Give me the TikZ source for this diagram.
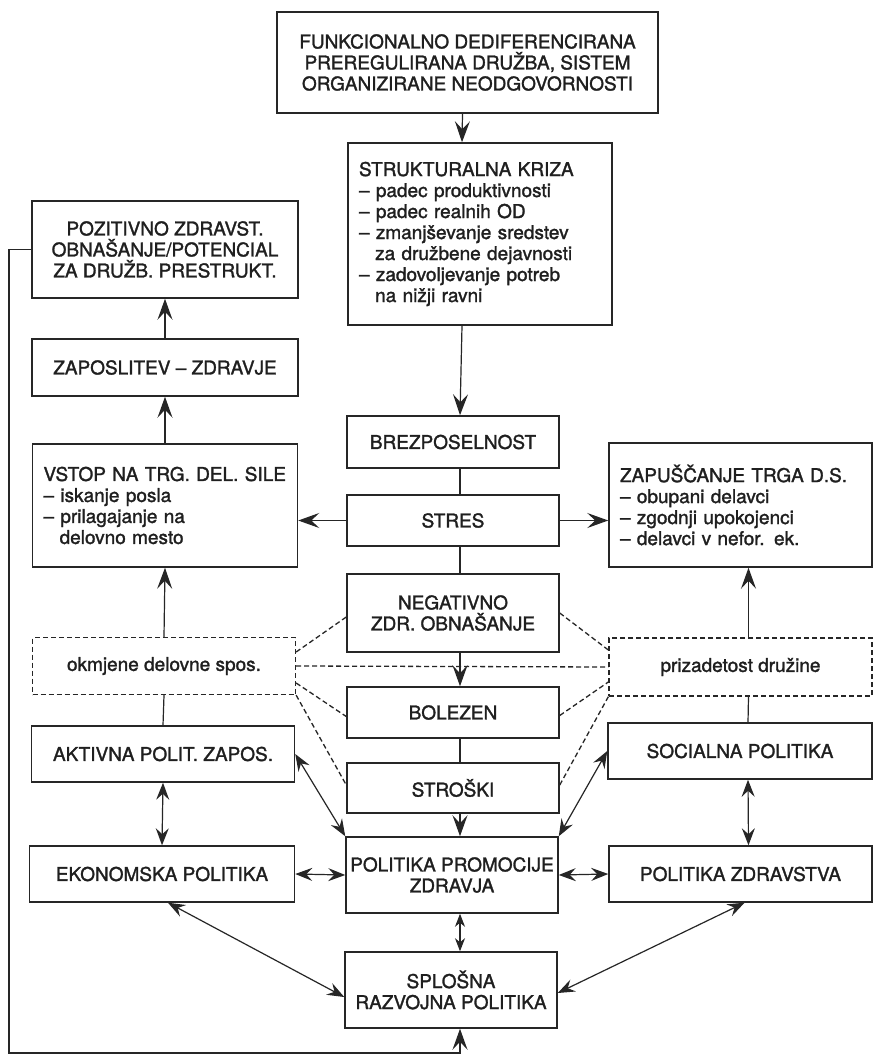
\documentclass[tikz,border=0pt]{standalone}
\usepackage{fontspec}
\setmainfont{TeX Gyre Heros}
\newfontfamily\heavyfont{TeX Gyre Heros}[FakeBold=1.5]
\usetikzlibrary{arrows.meta, positioning}
\newcommand{\dashind}{\hspace*{0.85em}}

\begin{document}
\begin{tikzpicture}[x=1pt, y=-1pt, line width=1.2pt, draw=black!85]
\tikzstyle{every node}=[font=\heavyfont\fontsize{19}{21}\selectfont, text=black!88]
\tikzstyle{box}=[draw, line width=1.5pt, rectangle, align=center, inner sep=0pt]
\tikzstyle{lbox}=[draw, line width=1.5pt, rectangle, align=left, inner xsep=11pt, inner ysep=0pt]
\tikzstyle{dbox}=[draw, line width=1.3pt, dash pattern=on 5pt off 3pt, rectangle, align=center, inner sep=0pt]
\tikzstyle{arr}=[-{Stealth[length=21pt,width=15pt,inset=8pt]}]
\tikzstyle{darr}=[{Stealth[length=17pt,width=13pt,inset=6pt]}-{Stealth[length=17pt,width=13pt,inset=6pt]}]
\fill[white] (0,0) rectangle (874,1056);
\useasboundingbox (0,0) rectangle (874,1056);

% middle column
\node[box, minimum width=381pt, minimum height=101pt] (FD) at (467.5,62.5) {FUNKCIONALNO DEDIFERENCIRANA\\PREREGULIRANA DRUŽBA, SISTEM\\ORGANIZIRANE NEODGOVORNOSTI};
\node[lbox, text width=242pt, minimum height=182pt] (SK) at (480,234) {STRUKTURALNA KRIZA\\– padec produktivnosti\\– padec realnih OD\\– zmanjševanje sredstev\\\dashind za družbene dejavnosti\\– zadovoljevanje potreb\\\dashind na nižji ravni};
\node[box, minimum width=212pt, minimum height=52pt] (BR) at (453,442) {BREZPOSELNOST};
\node[box, minimum width=212pt, minimum height=51pt] (ST) at (453,520.5) {STRES};
\node[box, minimum width=212pt, minimum height=78pt] (NE) at (453,613) {NEGATIVNO\\ZDR. OBNAŠANJE};
\node[box, minimum width=212pt, minimum height=51pt] (BO) at (453,712.5) {BOLEZEN};
\node[box, minimum width=212pt, minimum height=50pt] (SR) at (453,788) {STROŠKI};
\node[box, minimum width=212pt, minimum height=76pt] (PP) at (452,875) {POLITIKA PROMOCIJE\\ZDRAVJA};
\node[box, minimum width=212pt, minimum height=76pt] (RP) at (451,990) {SPLOŠNA\\RAZVOJNA POLITIKA};

% left column
\node[box, minimum width=266pt, minimum height=97pt] (PO) at (165,249.5) {POZITIVNO ZDRAVST.\\OBNAŠANJE/POTENCIAL\\ZA DRUŽB. PRESTRUKT.};
\node[box, minimum width=266pt, minimum height=57pt] (ZA) at (165,367.5) {ZAPOSLITEV – ZDRAVJE};
\node[lbox, text width=243pt, minimum height=123pt] (VS) at (165,505.5) {VSTOP NA TRG. DEL. SILE\\– iskanje posla\\– prilagajanje na\\\dashind delovno mesto};
\node[dbox, minimum width=263pt, minimum height=57pt] (OK) at (164,666) {okmjene delovne spos.};
\node[box, minimum width=263pt, minimum height=56pt] (AK) at (163,754) {AKTIVNA POLIT. ZAPOS.};
\node[box, minimum width=265pt, minimum height=56pt] (EK) at (162,874) {EKONOMSKA POLITIKA};

% right column
\node[lbox, text width=241pt, minimum height=124pt] (ZT) at (740.5,505) {ZAPUŠČANJE TRGA D.S.\\– obupani delavci\\– zgodnji upokojenci\\– delavci v nefor. ek.};
\node[dbox, minimum width=263pt, minimum height=58pt] (PR) at (740.5,667) {prizadetost družine};
\node[box, minimum width=264pt, minimum height=56pt] (SO) at (740,751) {SOCIALNA POLITIKA};
\node[box, minimum width=263pt, minimum height=56pt] (PZ) at (740.5,874) {POLITIKA ZDRAVSTVA};

\coordinate (C) at (9,1053);

\path
([xshift=7pt]BR.south) edge ([xshift=7pt]ST.north)
([xshift=7pt]ST.south) edge ([xshift=7pt]NE.north)
([xshift=7pt]BO.south) edge ([xshift=7pt]SR.north)
(AK.north) edge (OK.south)
([xshift=8pt]SO.north) edge ([xshift=8pt]PR.south);

\path[arr]
([xshift=-5pt]FD.south) edge ([xshift=-18pt]SK.north)
([xshift=-18pt]SK.south) edge ([xshift=7pt]BR.north)
([xshift=7pt]NE.south) edge ([xshift=7pt]BO.north)
([xshift=7pt]SR.south) edge ([xshift=8pt]PP.north)
(ST.west) edge (ST.west -| VS.east)
(ST.east) edge (ST.east -| ZT.west)
(VS.north) edge (ZA.south)
(ZA.north) edge (PO.south)
(OK.north) edge (VS.south)
([xshift=8pt]PR.north) edge ([xshift=8pt]ZT.south);

\path[darr]
(AK.south) edge (EK.north)
([xshift=8pt]SO.south) edge ([xshift=8pt]PZ.north)
(EK.east) edge (PP.west)
(PP.east) edge (PZ.west)
(AK.east) edge (PP.north west)
(SO.west) edge (PP.north east)
([xshift=6pt]EK.south) edge ([yshift=-7pt]RP.west)
([xshift=4pt]PZ.south) edge ([yshift=-3pt]RP.east);

\path[{Stealth[length=13pt,width=10pt,inset=4pt]}-{Stealth[length=13pt,width=10pt,inset=4pt]}]
([xshift=8pt]PP.south) edge ([xshift=9pt]RP.north);

\draw[arr] (PO.west) -| (C) -| ([xshift=9pt]RP.south);

% dashed links
\path[line width=1.3pt, dash pattern=on 5pt off 3pt]
([yshift=14pt]OK.east) edge ([yshift=-4pt]NE.west)
(OK.east) edge (PR.west)
([yshift=-17pt]OK.east) edge ([yshift=-4pt]BO.west)
(OK.south east) edge ([yshift=3pt]SR.west)
(NE.east) edge ([yshift=17pt]PR.west)
([yshift=-3pt]BO.east) edge ([yshift=-15pt]PR.west)
([yshift=3pt]SR.east) edge (PR.south west);
\end{tikzpicture}
\end{document}
